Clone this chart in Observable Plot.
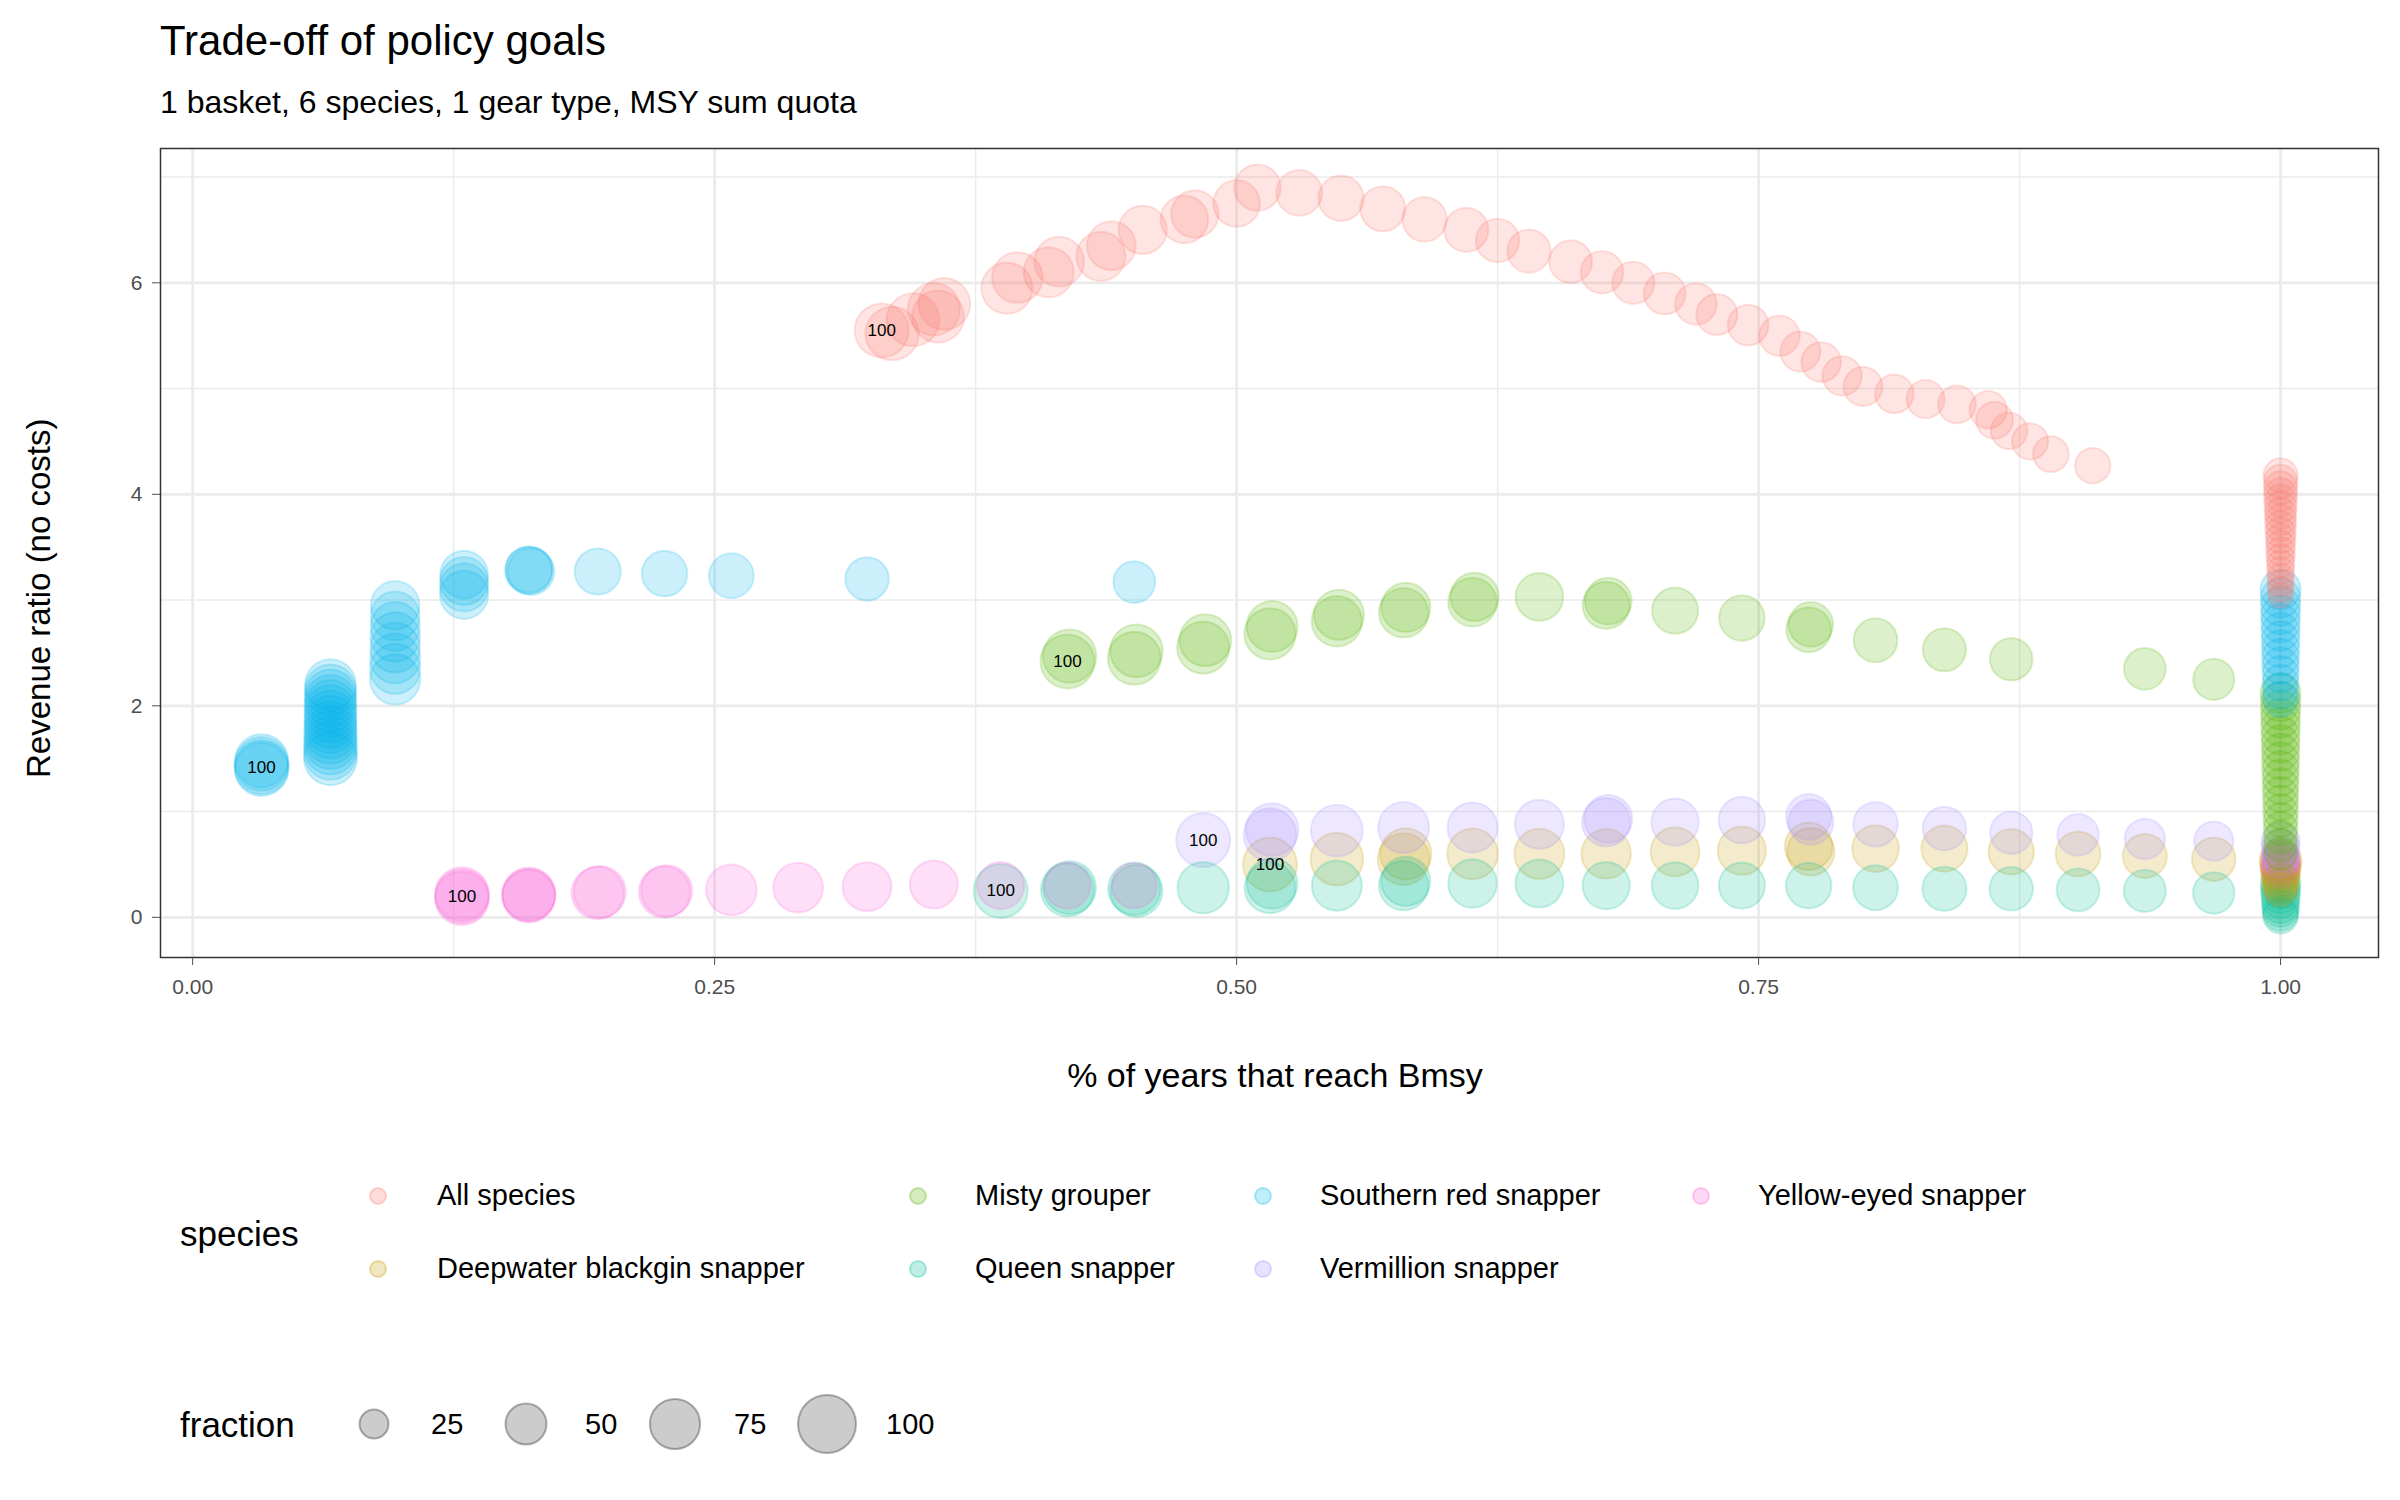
<!DOCTYPE html>
<html><head><meta charset="utf-8">
<script src="https://cdn.jsdelivr.net/npm/d3@7"></script>
<script src="https://cdn.jsdelivr.net/npm/@observablehq/plot@0.6"></script>
<style>
body{margin:0;background:#fff;font-family:"Liberation Sans",Arial,sans-serif;}
#wrap{position:relative;width:2400px;height:1500px;}
.t{position:absolute;white-space:nowrap;color:#000;}
</style></head><body><div id="wrap"></div>
<script>
const speciesNames = ["All species","Deepwater blackgin snapper","Misty grouper","Queen snapper","Southern red snapper","Vermillion snapper","Yellow-eyed snapper"];
const speciesColors = ["#F8766D","#C49A00","#53B400","#00C094","#00B6EB","#A58AFF","#FB61D7"];
// [x, y, fraction]
const allSpecies = [[0.33,5.55,100],[0.335,5.52,98],[0.345,5.65,96],[0.355,5.75,94],[0.357,5.68,93],[0.36,5.8,92],[0.39,5.95,90],[0.395,6.05,88],[0.41,6.1,86],[0.415,6.2,85],[0.435,6.25,83],[0.44,6.35,82],[0.455,6.5,80],[0.475,6.6,78],[0.48,6.65,77],[0.5,6.75,75],[0.51,6.9,74],[0.53,6.85,72],[0.55,6.8,71],[0.57,6.7,70],[0.59,6.6,68],[0.61,6.5,67],[0.625,6.4,65],[0.64,6.3,64],[0.66,6.2,63],[0.675,6.1,62],[0.69,6.0,61],[0.705,5.9,60],[0.72,5.8,59],[0.73,5.7,58],[0.745,5.6,57],[0.76,5.5,56],[0.77,5.35,55],[0.78,5.25,54],[0.79,5.12,53],[0.8,5.02,52],[0.815,4.95,51],[0.83,4.9,50],[0.845,4.85,49],[0.86,4.8,48],[0.863,4.7,47],[0.87,4.6,46],[0.88,4.5,45],[0.89,4.38,44],[0.91,4.27,43],[1,4.18,40],[1,4.12,39],[1,4.06,38],[1,4.0,37],[1,3.94,36],[1,3.88,35],[1,3.82,34],[1,3.76,33],[1,3.7,32],[1,3.64,31],[1,3.58,30],[1,3.52,29],[1,3.46,28],[1,3.4,27],[1,3.34,26],[1,3.28,25],[1,3.22,24],[1,3.16,23],[1,3.1,22],[1,3.04,21]];
const deepwater = [[0.516,0.5,100],[0.548,0.55,95],[0.58,0.55,92],[0.581,0.6,90],[0.613,0.6,88],[0.645,0.6,86],[0.677,0.6,84],[0.71,0.62,82],[0.742,0.63,80],[0.774,0.67,78],[0.775,0.62,77],[0.806,0.65,75],[0.839,0.65,73],[0.871,0.62,71],[0.903,0.6,69],[0.935,0.58,67],[0.968,0.55,65],[1,0.54,60],[1,0.5,57],[1,0.46,54],[1,0.42,51],[1,0.38,48],[1,0.34,45],[1,0.3,42],[1,0.26,39]];
const misty = [[0.419,2.42,100],[0.42,2.47,98],[0.451,2.45,96],[0.452,2.52,95],[0.484,2.55,93],[0.485,2.62,92],[0.516,2.68,90],[0.517,2.75,89],[0.548,2.8,87],[0.549,2.86,86],[0.58,2.88,84],[0.581,2.93,83],[0.613,2.98,81],[0.614,3.03,80],[0.645,3.03,78],[0.677,2.95,76],[0.678,2.99,75],[0.71,2.9,73],[0.742,2.83,71],[0.774,2.72,69],[0.775,2.77,68],[0.806,2.62,66],[0.839,2.53,64],[0.871,2.44,62],[0.935,2.35,60],[0.968,2.25,58],[1,2.12,55],[1,2.04,54],[1,1.96,53],[1,1.88,52],[1,1.8,51],[1,1.72,50],[1,1.64,49],[1,1.56,48],[1,1.48,47],[1,1.4,46],[1,1.32,45],[1,1.24,44],[1,1.16,43],[1,1.08,42],[1,1.0,41],[1,0.92,40],[1,0.84,39],[1,0.76,38],[1,0.68,37],[1,0.6,36]];
const queen = [[0.387,0.25,100],[0.419,0.26,97],[0.42,0.28,96],[0.451,0.27,94],[0.452,0.25,93],[0.484,0.28,91],[0.516,0.28,89],[0.517,0.32,88],[0.548,0.3,86],[0.58,0.3,84],[0.581,0.34,83],[0.613,0.32,81],[0.645,0.32,79],[0.677,0.3,77],[0.71,0.3,75],[0.742,0.3,73],[0.774,0.3,71],[0.806,0.28,69],[0.839,0.27,67],[0.871,0.27,65],[0.903,0.26,63],[0.935,0.25,61],[0.968,0.23,59],[1,0.32,55],[1,0.27,53],[1,0.22,51],[1,0.17,49],[1,0.12,47],[1,0.08,45],[1,0.04,43],[1,0.01,41]];
const southernRed = [[0.033,1.42,100],[0.033,1.45,99],[0.033,1.4,98],[0.033,1.48,97],[0.066,1.5,96],[0.066,1.55,95.5],[0.066,1.6,95],[0.066,1.65,94.5],[0.066,1.7,94],[0.066,1.75,93.5],[0.066,1.8,93],[0.066,1.85,92.5],[0.066,1.9,92],[0.066,1.95,91.5],[0.066,2.0,91],[0.066,2.05,90.5],[0.066,2.1,90],[0.066,2.15,89.5],[0.066,2.2,89],[0.097,2.25,87],[0.097,2.35,86.5],[0.097,2.45,86],[0.097,2.55,85],[0.097,2.65,84],[0.097,2.75,83],[0.097,2.85,82],[0.097,2.95,81],[0.13,3.05,80],[0.13,3.12,79.5],[0.13,3.18,79],[0.13,3.24,78],[0.161,3.28,76],[0.162,3.27,75],[0.161,3.29,74],[0.194,3.27,73],[0.226,3.25,71],[0.258,3.23,69],[0.323,3.2,65],[0.451,3.17,60],[1,3.1,55],[1,3.02,54],[1,2.94,53],[1,2.86,52],[1,2.78,51],[1,2.7,50],[1,2.62,49],[1,2.54,48],[1,2.46,47],[1,2.38,46],[1,2.3,45],[1,2.22,44],[1,2.14,43],[1,2.06,42]];
const vermillion = [[0.484,0.73,100],[0.516,0.78,96],[0.517,0.83,95],[0.548,0.82,92],[0.58,0.85,89],[0.613,0.85,86],[0.645,0.88,83],[0.677,0.9,80],[0.678,0.93,79],[0.71,0.9,77],[0.742,0.92,74],[0.774,0.95,71],[0.775,0.9,70],[0.806,0.88,68],[0.839,0.84,65],[0.871,0.8,62],[0.903,0.78,59],[0.935,0.74,56],[0.968,0.72,53],[1,0.72,50],[1,0.66,48],[1,0.6,46],[1,0.55,44]];
const yellowEyed = [[0.129,0.2,100],[0.129,0.22,99],[0.129,0.18,98.5],[0.161,0.22,97],[0.161,0.2,96],[0.161,0.21,95.5],[0.194,0.23,94],[0.195,0.24,93],[0.226,0.24,91],[0.227,0.25,90],[0.258,0.26,88],[0.29,0.28,85],[0.323,0.29,82],[0.355,0.31,79],[0.387,0.3,76],[0.419,0.3,73],[0.451,0.3,70],[1,0.55,50],[1,0.5,48],[1,0.45,46]];
const seriesData = [allSpecies,deepwater,misty,queen,southernRed,vermillion,yellowEyed];
const xTicks = [0,0.25,0.5,0.75,1];
const xMinor = [0.125,0.375,0.625,0.875];
const yTicks = [0,2,4,6];
const yMinor = [1,3,5,7];
const sizeLegend = [25,50,75,100];

const pts = [];
seriesData.forEach((arr,i)=>arr.forEach(([x,y,f])=>pts.push({species:speciesNames[i],x,y,f})));
const labels = seriesData.map((arr,i)=>({x:arr[0][0],y:arr[0][1]}));

const chart = Plot.plot({
  width:2400,height:1110,
  marginLeft:160,marginRight:22,marginTop:148,marginBottom:153,
  style:{fontFamily:"Liberation Sans, Arial, sans-serif",background:"#fff",fontSize:"20px"},
  x:{domain:[-0.0154,1.0469]},
  y:{domain:[-0.38,7.27]},
  r:{type:"sqrt",domain:[0,100],range:[0,27]},
  color:{domain:speciesNames,range:speciesColors},
  marks:[
    Plot.ruleX(xMinor,{stroke:"#ebebeb",strokeWidth:1.4}),
    Plot.ruleY(yMinor,{stroke:"#ebebeb",strokeWidth:1.4}),
    Plot.ruleX(xTicks,{stroke:"#ebebeb",strokeWidth:2.8}),
    Plot.ruleY(yTicks,{stroke:"#ebebeb",strokeWidth:2.8}),
    Plot.dot(pts,{x:"x",y:"y",r:"f",fill:"species",fillOpacity:0.2,stroke:"species",strokeOpacity:0.2,strokeWidth:2}),
    Plot.text(labels,{x:"x",y:"y",text:()=>"100",fontSize:17,fill:"#000"}),
    Plot.frame({stroke:"#333",strokeWidth:1.5}),
    Plot.axisX({ticks:xTicks,tickFormat:d3.format(".2f"),fontSize:21,color:"#4d4d4d",tickSize:8,tickPadding:14,label:null}),
    Plot.axisY({ticks:yTicks,tickFormat:d=>String(d),fontSize:21,color:"#4d4d4d",tickSize:8,tickPadding:10,label:null})
  ]
});
const wrap = document.getElementById("wrap");
chart.style.position="absolute";chart.style.left="0";chart.style.top="0";
wrap.appendChild(chart);
function t(txt,x,y,size,extra){const d=document.createElement("div");d.className="t";d.textContent=txt;d.style.left=x+"px";d.style.top=y+"px";d.style.fontSize=size+"px";d.style.lineHeight="1";if(extra)Object.assign(d.style,extra);wrap.appendChild(d);return d;}
t("Trade-off of policy goals",160,20,42);
t("1 basket, 6 species, 1 gear type, MSY sum quota",160,86,32);
t("% of years that reach Bmsy",1275,1058,34,{transform:"translateX(-50%)"});
t("Revenue ratio (no costs)",22,778,33,{transform:"rotate(-90deg)",transformOrigin:"left top"});
t("species",180,1216,35);
t("fraction",180,1407,35);
const cols=[[378,437],[918,975],[1263,1320],[1701,1758]];
const rowY=[1196,1269];
const svgNS="http://www.w3.org/2000/svg";
const leg=document.createElementNS(svgNS,"svg");
leg.setAttribute("width",2400);leg.setAttribute("height",1500);
leg.style.position="absolute";leg.style.left="0";leg.style.top="0";leg.style.pointerEvents="none";
wrap.appendChild(leg);
speciesNames.forEach((n,i)=>{
  const col = i<=1?0:i<=3?1:i<=5?2:3;
  const row = (i===1||i===3||i===5)?1:0;
  const cc=document.createElementNS(svgNS,"circle");
  cc.setAttribute("cx",cols[col][0]);cc.setAttribute("cy",rowY[row]);cc.setAttribute("r",8);
  cc.setAttribute("fill",speciesColors[i]);cc.setAttribute("fill-opacity",0.25);cc.setAttribute("stroke",speciesColors[i]);cc.setAttribute("stroke-opacity",0.3);cc.setAttribute("stroke-width",2);
  leg.appendChild(cc);
  t(n,cols[col][1],rowY[row]-15,29);
});
const sx=[[374,431],[526,585],[675,734],[827,886]];
const rr=d3.scaleSqrt().domain([0,100]).range([0,29]);
sizeLegend.forEach((v,i)=>{
  const cc=document.createElementNS(svgNS,"circle");
  cc.setAttribute("cx",sx[i][0]);cc.setAttribute("cy",1424);cc.setAttribute("r",rr(v));
  cc.setAttribute("fill","#000");cc.setAttribute("fill-opacity",0.2);cc.setAttribute("stroke","#000");cc.setAttribute("stroke-opacity",0.3);cc.setAttribute("stroke-width",2);
  leg.appendChild(cc);
  t(String(v),sx[i][1],1410,29);
});
</script></body></html>
